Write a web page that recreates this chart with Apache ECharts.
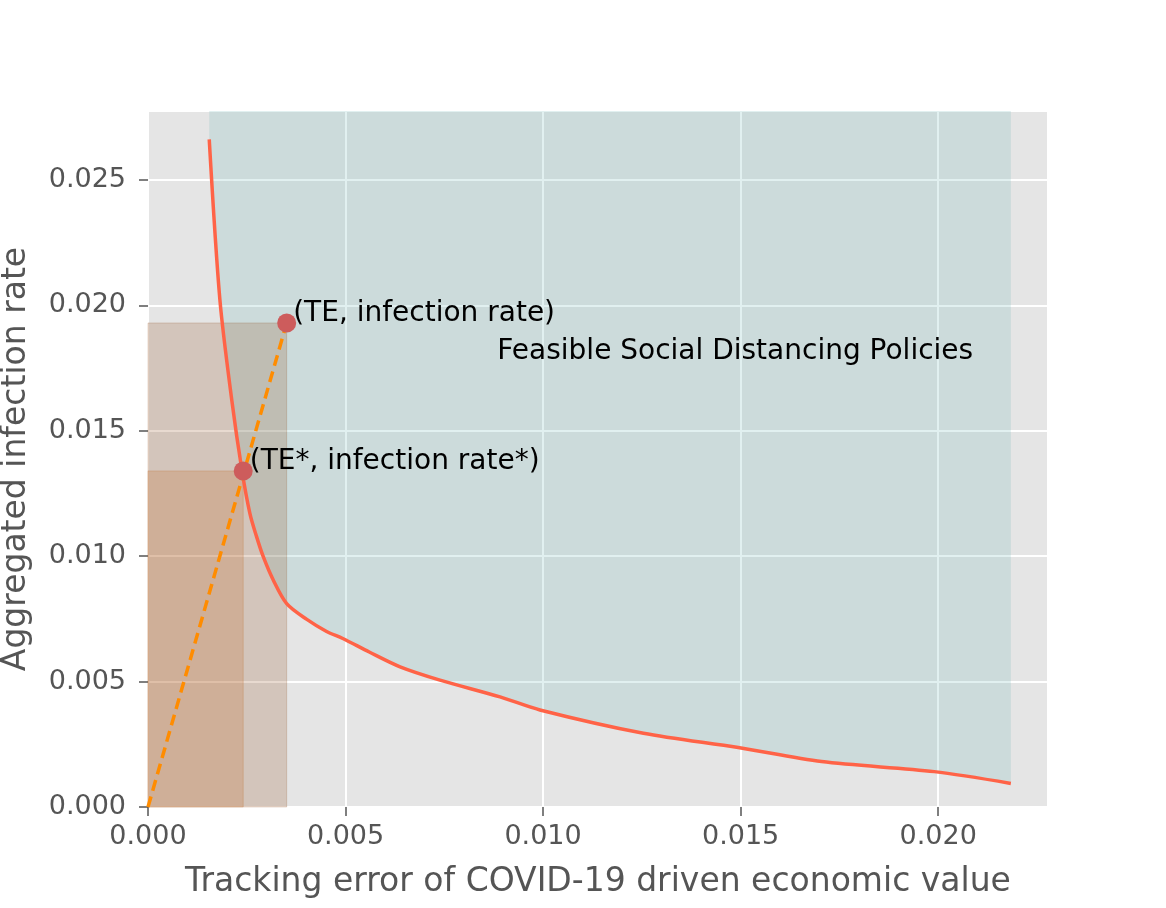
<!DOCTYPE html>
<html>
<head>
<meta charset="utf-8">
<script src="https://cdn.jsdelivr.net/npm/echarts@6/dist/echarts.min.js"></script>
<style>
  html, body { margin: 0; padding: 0; background: #fff; }
  #chart { width: 1166px; height: 908px; }
</style>
</head>
<body>
<div id="chart"></div>
<script>
// frontier curve: tracking error vs aggregated infection rate
const curveX = [0.00155, 0.00182, 0.00212, 0.00238, 0.00258, 0.00275, 0.00292, 0.00317, 0.00351, 0.00402,
                0.00452, 0.00493, 0.0056, 0.00638, 0.00739, 0.00891, 0.00992, 0.01254, 0.01494, 0.01705, 0.0199, 0.02184]
const curveY = [0.02662, 0.02022, 0.01623, 0.01340, 0.01170, 0.01077, 0.00997, 0.00905, 0.00811, 0.00748,
                0.00700, 0.00672, 0.00618, 0.00559, 0.00506, 0.00439, 0.00387, 0.00294, 0.00237, 0.00181, 0.00141, 0.00094]

// the two marked policies
const pointNames = ['(TE, infection rate)', '(TE*, infection rate*)']
const pointX = [0.00351, 0.00241]
const pointY = [0.0193, 0.0134]

// dashed ray from the origin through (TE, infection rate)
const rayX = [0, 0.00351]
const rayY = [0, 0.0193]

const regionText = 'Feasible Social Distancing Policies'
const regionTextPos = [0.00884, 0.01814]

const xMax = 0.02278
const yMax = 0.02775

const curve = curveX.map((x, i) => [x, curveY[i]])
const FONT = 'DejaVu Sans'

const chart = echarts.init(document.getElementById('chart'), null, { renderer: 'canvas' })

const axisCommon = {
    type: 'value',
    min: 0,
    interval: 0.005,
    axisLine: { show: false },
    axisTick: { show: true, length: 9, lineStyle: { color: '#555', width: 1.5 } },
    axisLabel: {
        color: '#555', fontFamily: FONT, fontSize: 27,
        showMaxLabel: false,
        formatter: v => v.toFixed(3)
    },
    splitLine: { show: true, lineStyle: { color: '#fff', width: 2 } },
    nameLocation: 'middle',
    nameTextStyle: { color: '#555', fontFamily: FONT, fontSize: 33 }
}

const rectSeries = (idx, color) => ({
    type: 'custom',
    data: [[pointX[idx], pointY[idx]]],
    renderItem: (params, api) => {
        const p0 = api.coord([0, 0])
        const p1 = api.coord([api.value(0), api.value(1)])
        return {
            type: 'rect',
            shape: { x: p0[0], y: p1[1], width: p1[0] - p0[0], height: p0[1] - p1[1] },
            style: { fill: color, stroke: color, lineWidth: 1 }
        }
    },
    z: 3,
    silent: true
})

chart.setOption({
    animation: false,
    grid: {
        left: 148, right: 118, top: 111, bottom: 101,
        outerBoundsMode: 'none',
        containLabel: false,
        show: true, backgroundColor: '#e5e5e5', borderWidth: 0
    },
    xAxis: Object.assign({}, axisCommon, {
        max: xMax,
        name: 'Tracking error of COVID-19 driven economic value',
        nameGap: 59
    }, { axisLabel: Object.assign({}, axisCommon.axisLabel, { margin: 16 }) }),
    yAxis: Object.assign({}, axisCommon, {
        max: yMax,
        name: 'Aggregated infection rate',
        nameGap: 115
    }, { axisLabel: Object.assign({}, axisCommon.axisLabel, { margin: 22 }) }),
    series: [
        {
            // feasible region: above the frontier
            type: 'line',
            data: curve,
            smooth: 0.3,
            symbol: 'none',
            lineStyle: { width: 0, opacity: 0 },
            areaStyle: { origin: 'end', color: 'rgba(104,179,179,0.2)', opacity: 1 },
            z: 2,
            silent: true
        },
        rectSeries(0, 'rgba(139,69,19,0.2)'),
        rectSeries(1, 'rgba(195,113,49,0.25)'),
        {
            type: 'line',
            data: curve,
            smooth: 0.3,
            symbol: 'none',
            lineStyle: { color: '#ff6347', width: 3.5 },
            z: 5
        },
        {
            type: 'line',
            data: rayX.map((x, i) => [x, rayY[i]]),
            symbol: 'none',
            lineStyle: { color: '#ff8c00', width: 3.5, type: [11, 6] },
            z: 6
        },
        {
            type: 'scatter',
            data: pointX.map((x, i) => ({ value: [x, pointY[i]], name: pointNames[i] })),
            symbolSize: 19,
            itemStyle: { color: '#cd5c5c', opacity: 1 },
            label: {
                show: true, position: 'right', distance: 0, offset: [-3, -9],
                formatter: p => p.name,
                color: '#000', fontFamily: FONT, fontSize: 28
            },
            z: 7
        },
        {
            type: 'scatter',
            data: [{ value: regionTextPos, name: regionText }],
            symbolSize: 0,
            itemStyle: { opacity: 1 },
            label: {
                show: true, position: 'right', distance: 0,
                formatter: p => p.name,
                color: '#000', fontFamily: FONT, fontSize: 28
            },
            z: 7,
            silent: true
        }
    ]
})
</script>
</body>
</html>
